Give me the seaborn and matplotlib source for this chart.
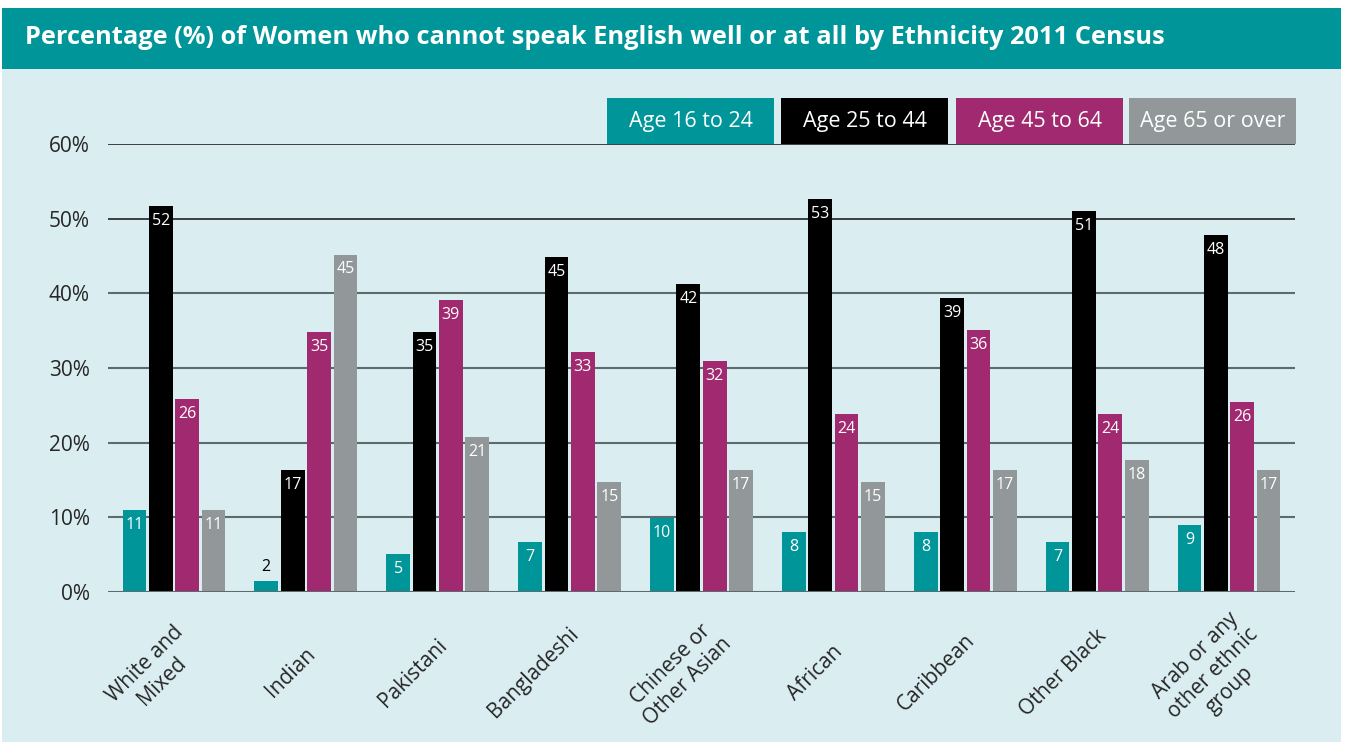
import matplotlib
matplotlib.use('Agg')
from matplotlib import pyplot as plt
from matplotlib.patches import Rectangle
from matplotlib.transforms import ScaledTranslation
import pandas as pd
import seaborn as sns

#### DATA #####################################################################
ethnicity = ['White and\nMixed', 'Indian', 'Pakistani', 'Bangladeshi',
             'Chinese or\nOther Asian', 'African', 'Caribbean', 'Other Black',
             'Arab or any\nother ethnic\ngroup']
ages = ['Age 16 to 24', 'Age 25 to 44', 'Age 45 to 64', 'Age 65 or over']

# bar heights
age_16_24 = [11.0, 1.5, 5.1, 6.7, 9.9, 8.0, 8.0, 6.7, 9.0]
age_25_44 = [51.7, 16.3, 34.8, 44.8, 41.2, 52.6, 39.4, 51.0, 47.8]
age_45_64 = [25.8, 34.8, 39.1, 32.1, 30.9, 23.8, 35.1, 23.8, 25.4]
age_65_over = [11.0, 45.2, 20.7, 14.7, 16.3, 14.7, 16.3, 17.7, 16.3]

# printed (rounded) labels
lab_16_24 = [11, 2, 5, 7, 10, 8, 8, 7, 9]
lab_25_44 = [52, 17, 35, 45, 42, 53, 39, 51, 48]
lab_45_64 = [26, 35, 39, 33, 32, 24, 36, 24, 26]
lab_65_over = [11, 45, 21, 15, 17, 15, 17, 18, 17]

yticks = [0, 10, 20, 30, 40, 50, 60]

#### STYLE ####################################################################
teal = '#009699'
colors = [teal, '#000000', '#a0296f', '#929899']
bg = '#daedf1'
FONT = ['Open Sans', 'DejaVu Sans']

sns.set_style('white')
plt.rcParams['font.family'] = FONT

W, H = 1347, 743
fig = plt.figure(figsize=(W / 100, H / 100), dpi=100, facecolor='white')

def box(x0, y0, x1, y1, color):
    # pixel coords from the top-left corner
    fig.add_artist(Rectangle((x0 / W, 1 - y1 / H), (x1 - x0) / W, (y1 - y0) / H,
                             transform=fig.transFigure, color=color, lw=0, zorder=0))

box(2, 8, 1341, 742, bg)
box(2, 8, 1341, 69, teal)
fig.text(25 / W, 1 - 38 / H,
         'Percentage (%) of Women who cannot speak English well or at all by Ethnicity 2011 Census',
         color='white', fontsize=18.3, fontweight='bold', va='center', ha='left')

#### PLOT #####################################################################
df = pd.DataFrame({
    'ethnicity': ethnicity * 4,
    'age': [a for a in ages for _ in ethnicity],
    'value': age_16_24 + age_25_44 + age_45_64 + age_65_over,
})
bar_labels = [lab_16_24, lab_25_44, lab_45_64, lab_65_over]

ax_l, ax_r, ax_b, ax_t = 108, 1295, 592, 144
ax = fig.add_axes([ax_l / W, 1 - ax_b / H, (ax_r - ax_l) / W, (ax_b - ax_t) / H])
ax.set_facecolor('none')

sns.barplot(data=df, x='ethnicity', y='value', hue='age', hue_order=ages,
            palette=colors, saturation=1, width=0.8, gap=0.1, errorbar=None,
            legend=False, ax=ax, zorder=3, linewidth=0, edgecolor='none')

ax.set_xlim(-0.5, len(ethnicity) - 0.5)
ax.set_ylim(0, 60)
ax.set_yticks(yticks)
ax.set_yticklabels([f'{t}%' for t in yticks], fontsize=15)
ax.set_xlabel('')
ax.set_ylabel('')
for s in ax.spines.values():
    s.set_visible(False)
ax.tick_params(axis='both', length=0)
ax.tick_params(axis='y', pad=13)

# gridlines
for t in yticks:
    if t >= 50:
        ax.axhline(t, color='#111111', lw=1.1, zorder=1)
    elif t == 0:
        ax.axhline(t, color='#5f6a6e', lw=2.2, zorder=4)
    else:
        ax.axhline(t, color='#5f6a6e', lw=1.5, zorder=1)

# value labels
for cont, labs in zip(ax.containers, bar_labels):
    for rect, lab in zip(cont, labs):
        xc = rect.get_x() + rect.get_width() / 2
        h = rect.get_height()
        if h < 3:
            ax.annotate(str(lab), (xc, h), xytext=(0, 4), textcoords='offset points',
                        ha='center', va='bottom', fontsize=11.5, color='black', zorder=5)
        else:
            ax.annotate(str(lab), (xc, h), xytext=(0, -5), textcoords='offset points',
                        ha='center', va='top', fontsize=11.5, color='white', zorder=5)

# rotated category labels, centred at a fixed height, first line ending near the tick
renderer = fig.canvas.get_renderer()
ax.set_xticks(range(len(ethnicity)))
ax.set_xticklabels([])
fs = 15
lh = fs * 100 / 72 * 1.2
for i, lab in enumerate(ethnicity):
    lines = lab.split('\n')
    t = ax.text(0, 0, lines[0], fontsize=fs)
    w1 = t.get_window_extent(renderer).width
    t.remove()
    n = len(lines)
    dx = 6 - w1 / 2 * 0.707 + (n - 1) / 2 * lh * 0.707
    tr = ax.get_xaxis_transform() + ScaledTranslation(dx / 100, 0, fig.dpi_scale_trans)
    ax.text(i, -81 / (ax_b - ax_t), lab, transform=tr, fontsize=fs, rotation=45,
            rotation_mode='anchor', ha='center', va='center', multialignment='center',
            linespacing=1.2)

# legend boxes above the top line
leg_x = [607, 781, 956, 1129]
for x0, a, c in zip(leg_x, ages, colors):
    box(x0, 98, x0 + 167, 144, c)
    fig.text((x0 + 83.5) / W, 1 - 121 / H, a, color='white', fontsize=15.5,
             ha='center', va='center')

fig.savefig('out.png', dpi=100, facecolor='white')
